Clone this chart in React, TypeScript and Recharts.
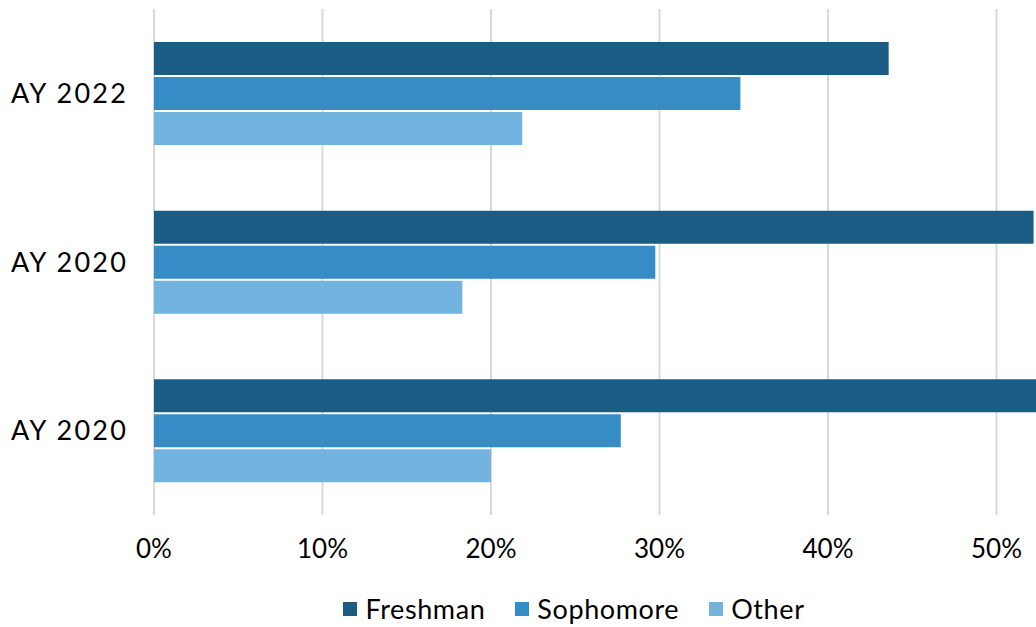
import React from "react";
import { BarChart, Bar, XAxis, YAxis, CartesianGrid, Legend } from "recharts";

const categories = ["AY 2022", "AY 2020", "AY 2020"];
const freshman = [0.436, 0.522, 0.545];
const sophomore = [0.348, 0.2975, 0.277];
const other = [0.2185, 0.183, 0.2];
const xTicks = [0, 0.1, 0.2, 0.3, 0.4, 0.5];

const seriesNames = ["Freshman", "Sophomore", "Other"];
const colors = ["#1B5C85", "#368CC5", "#72B3E0"];

const data = categories.map((c, i) => ({
  key: String(i),
  name: c,
  Freshman: freshman[i],
  Sophomore: sophomore[i],
  Other: other[i],
}));

const FONT = "Lato, 'Noto Sans', sans-serif";

const renderLegend = () => (
  <div style={{ display: "flex", justifyContent: "center", alignItems: "center", fontFamily: FONT, fontSize: 27, color: "#000", letterSpacing: 0.6 }}>
    {seriesNames.map((n, i) => (
      <div key={n} style={{ display: "flex", alignItems: "center", marginRight: i < seriesNames.length - 1 ? 30 : 0 }}>
        <div style={{ width: 14, height: 14, background: colors[i], marginRight: 8 }} />
        <span>{n}</span>
      </div>
    ))}
  </div>
);

export default function App() {
  return (
    <div style={{ position: "absolute", left: 0, top: 0, width: 1036, height: 627, overflow: "hidden", background: "#fff" }}>
      <BarChart
        width={1200}
        height={627}
        data={data}
        layout="vertical"
        margin={{ top: 9, right: 35, bottom: 72, left: 0 }}
        barGap={2}
      >
        <CartesianGrid horizontal={false} vertical stroke="#D9D9D9" strokeWidth={2} />
        <XAxis
          type="number"
          domain={[0, 0.6]}
          ticks={xTicks}
          tickFormatter={(v: number) => `${Math.round(v * 100)}%`}
          axisLine={false}
          tickLine={false}
          tickSize={0}
          tickMargin={25}
          height={40}
          tick={{ fill: "#000", fontSize: 26, fontFamily: FONT }}
          interval={0}
        />
        <YAxis
          type="category"
          dataKey="key"
          width={154}
          axisLine={false}
          tickLine={false}
          tickSize={0}
          tickMargin={26}
          tickFormatter={(_v: string, i: number) => categories[i]}
          tick={{ fill: "#000", fontSize: 27, fontFamily: FONT, letterSpacing: 2.2 }}
        />
        <Legend
          layout="horizontal"
          verticalAlign="middle"
          align="center"
          content={renderLegend}
          wrapperStyle={{ left: 0, top: 592, width: 1148 }}
        />
        {seriesNames.map((n, i) => (
          <Bar key={n} dataKey={n} fill={colors[i]} barSize={33} isAnimationActive={false} />
        ))}
      </BarChart>
    </div>
  );
}
